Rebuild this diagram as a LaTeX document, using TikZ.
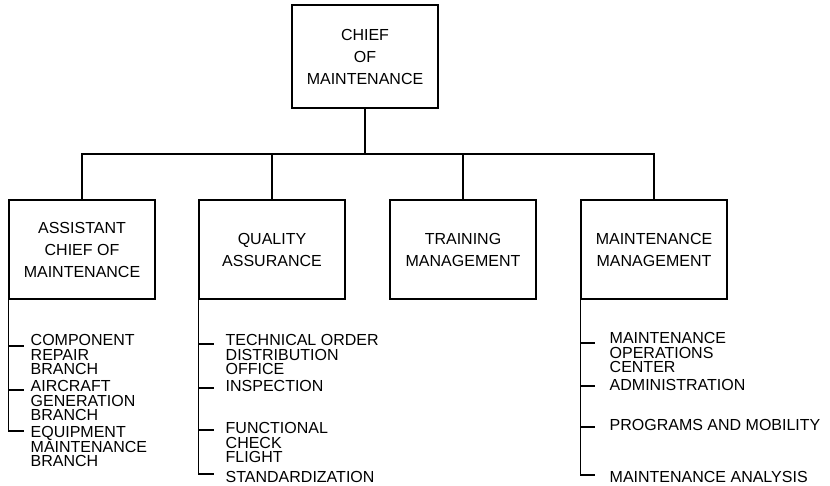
\documentclass[tikz,border=0pt]{standalone}
\usepackage{fontspec}
\setmainfont{Liberation Sans}
\usepackage{tikz}
\usetikzlibrary{positioning}

\begin{document}
\begin{tikzpicture}[x=1pt,y=-1pt,line width=1.4pt,
                box/.style={draw,rectangle,minimum width=146pt,minimum height=99pt,
                            align=center,font=\fontsize{16}{22}\selectfont},
                item/.style={anchor=north west,inner sep=0pt,align=left,
                             font=\fontsize{16}{14.5}\selectfont}]
        \useasboundingbox (0,0) rectangle (830,485);
        %----------------  第一层  ----------------
        \node[box,minimum height=103pt] (c0) at (365,56.5) {CHIEF\\OF\\MAINTENANCE};
        \coordinate (bus) at (365,154);

        %----------------  第二层  ----------------
        \node[box] (b1) at (82,249.5)  {ASSISTANT\\CHIEF OF\\MAINTENANCE};
        \node[box] (b2) at (272,249.5) {QUALITY\\ASSURANCE};
        \node[box] (b3) at (463,249.5) {TRAINING\\MANAGEMENT};
        \node[box] (b4) at (654,249.5) {MAINTENANCE\\MANAGEMENT};
        \draw (c0.south) -- (bus);
        \draw (b1.north) -- (b1.north |- bus) -- (b4.north |- bus) -- (b4.north);
        \draw (b2.north) -- (b2.north |- bus);
        \draw (b3.north) -- (b3.north |- bus);

        %----------------  助理主任  ----------------
        \node[item] (s11) at (30,334)  {COMPONENT\\REPAIR\\BRANCH};
        \node[item] (s12) at (30,380)  {AIRCRAFT\\GENERATION\\BRANCH};
        \node[item] (s13) at (30,426)  {EQUIPMENT\\MAINTENANCE\\BRANCH};
        \coordinate (t11) at (b1.south west |- 0,346);
        \coordinate (t12) at (b1.south west |- 0,390);
        \coordinate (t13) at (b1.south west |- 0,431);
        \draw (b1.south west) -- (t13) -- ++(16,0);
        \draw (t11) -- ++(16,0);
        \draw (t12) -- ++(16,0);

        %----------------  质量保证  ----------------
        \node[item] (s21) at (225,334) {TECHNICAL ORDER\\DISTRIBUTION\\OFFICE};
        \node[item] (s22) at (225,380) {INSPECTION};
        \node[item] (s23) at (225,422) {FUNCTIONAL\\CHECK\\FLIGHT};
        \node[item] (s24) at (225,471) {STANDARDIZATION};
        \coordinate (t21) at (b2.south west |- 0,344);
        \coordinate (t22) at (b2.south west |- 0,388);
        \coordinate (t23) at (b2.south west |- 0,430);
        \coordinate (t24) at (b2.south west |- 0,474);
        \draw (b2.south west) -- (t24) -- ++(16,0);
        \draw (t21) -- ++(16,0);
        \draw (t22) -- ++(16,0);
        \draw (t23) -- ++(16,0);

        %----------------  维修管理  ----------------
        \node[item] (s41) at (609,332) {MAINTENANCE\\OPERATIONS\\CENTER};
        \node[item] (s42) at (609,379) {ADMINISTRATION};
        \node[item] (s43) at (609,419) {PROGRAMS AND MOBILITY};
        \node[item] (s44) at (609,471) {MAINTENANCE ANALYSIS};
        \coordinate (t41) at (b4.south west |- 0,343);
        \coordinate (t42) at (b4.south west |- 0,386);
        \coordinate (t43) at (b4.south west |- 0,427);
        \coordinate (t44) at (b4.south west |- 0,475);
        \draw (b4.south west) -- (t44) -- ++(15,0);
        \draw (t41) -- ++(15,0);
        \draw (t42) -- ++(15,0);
        \draw (t43) -- ++(15,0);
\end{tikzpicture}
\end{document}
